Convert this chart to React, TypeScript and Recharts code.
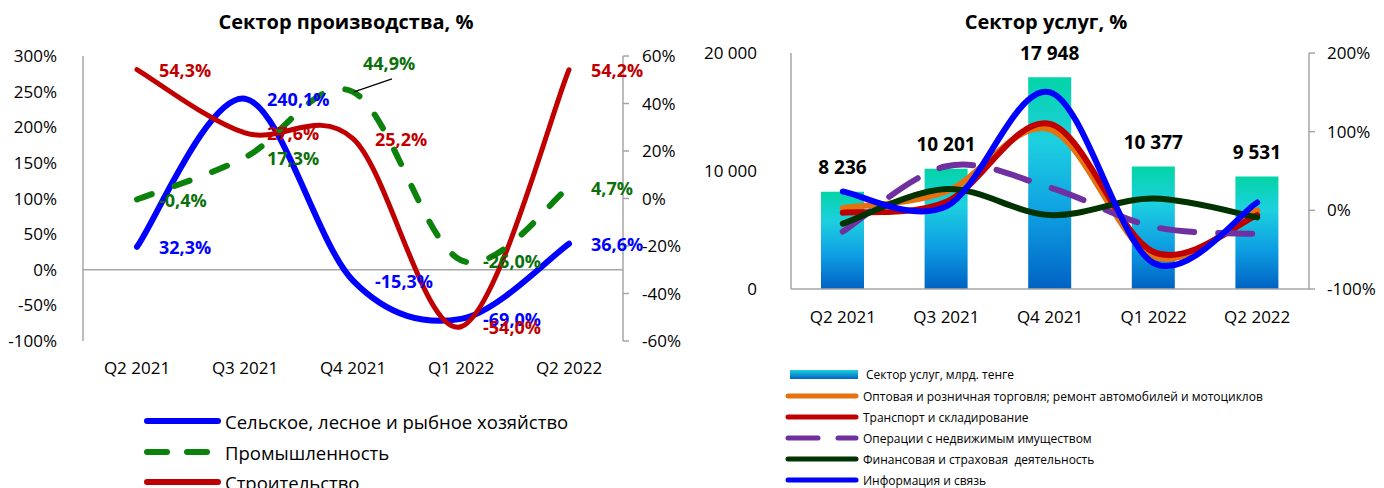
import React from "react";
import {
  ComposedChart,
  Line,
  Bar,
  XAxis,
  YAxis,
  ReferenceLine,
  LabelList,
} from "recharts";

const QUARTERS = ["Q2 2021", "Q3 2021", "Q4 2021", "Q1 2022", "Q2 2022"];

// Сектор производства, % — agri on the left axis, the other two on the right axis
const AGRI = [32.3, 240.1, -15.3, -69.0, 36.6];
const INDUSTRY = [-0.4, 17.3, 44.9, -26.0, 4.7];
const CONSTRUCTION = [54.3, 27.6, 25.2, -54.0, 54.2];
const PROD_LEFT_TICKS = [-100, -50, 0, 50, 100, 150, 200, 250, 300];
const PROD_RIGHT_TICKS = [-60, -40, -20, 0, 20, 40, 60];
const PROD_NAMES = [
  "Сельское, лесное и рыбное хозяйство",
  "Промышленность",
  "Строительство",
];

// Сектор услуг — bars in bn tenge, lines in % (right axis)
const SERVICES = [8236, 10201, 17948, 10377, 9531];
const TRADE = [3, 24, 103, -59, 0];
const TRANSPORT = [-3, 11, 110, -53, -6];
const REALTY = [-27, 56, 29, -21, -30];
const FINANCE = [-17, 27, -6, 15, -9];
const INFO = [24, 5, 150, -67, 10];
const SVC_LEFT_TICKS = [0, 10000, 20000];
const SVC_RIGHT_TICKS = [-100, 0, 100, 200];
const SVC_NAMES = [
  "Сектор услуг, млрд. тенге",
  "Оптовая и розничная торговля; ремонт автомобилей и мотоциклов",
  "Транспорт и складирование",
  "Операции с недвижимым имуществом",
  "Финансовая и страховая  деятельность",
  "Информация и связь",
];

const prodData = QUARTERS.map((q, i) => ({
  q,
  agri: AGRI[i],
  industry: INDUSTRY[i],
  construction: CONSTRUCTION[i],
}));

const svcData = QUARTERS.map((q, i) => ({
  q,
  services: SERVICES[i],
  trade: TRADE[i],
  transport: TRANSPORT[i],
  realty: REALTY[i],
  finance: FINANCE[i],
  info: INFO[i],
}));

const FONT = "'Open Sans', 'Noto Sans', sans-serif";
const AXIS_GRAY = "#A6A6A6";
const BLUE = "#0000FF";
const GREEN = "#0B820B";
const GREEN_TEXT = "#0B700B";
const DARK_RED = "#C00000";
const ORANGE = "#E6720F";
const PURPLE = "#7030A0";
const DARK_GREEN = "#003300";

// Excel-style smoothed line (Catmull-Rom through every point)
function excelSmooth(context: any) {
  let pts: number[][] = [];
  return {
    areaStart() {},
    areaEnd() {},
    lineStart() {
      pts = [];
    },
    point(x: number, y: number) {
      pts.push([+x, +y]);
    },
    lineEnd() {
      if (!pts.length) return;
      context.moveTo(pts[0][0], pts[0][1]);
      for (let i = 0; i < pts.length - 1; i++) {
        const p0 = pts[i - 1] || pts[i];
        const p1 = pts[i];
        const p2 = pts[i + 1];
        const p3 = pts[i + 2] || p2;
        context.bezierCurveTo(
          p1[0] + (p2[0] - p0[0]) / 6,
          p1[1] + (p2[1] - p0[1]) / 6,
          p2[0] - (p3[0] - p1[0]) / 6,
          p2[1] - (p3[1] - p1[1]) / 6,
          p2[0],
          p2[1]
        );
      }
    },
  };
}

const pct = (v: number) => v.toFixed(1).replace(".", ",") + "%";
const thousands = (v: number) => String(v).replace(/\B(?=(\d{3})+(?!\d))/g, " ");

// data label to the right of the point; the 44,9% one sits up with a leader line
function sideLabel(color: string, calloutIndex = -1) {
  // eslint-disable-next-line @typescript-eslint/no-explicit-any
  return (props: any) => {
    const { x, y, value, index } = props;
    if (index === calloutIndex) {
      return (
        <g>
          <line x1={x + 1} y1={y} x2={x + 39} y2={y - 13} stroke="#000" strokeWidth={1.2} />
          <text x={x + 10} y={y - 28} dy="0.35em" fill={color} fontSize={18} fontWeight="bold">
            {pct(value)}
          </text>
        </g>
      );
    }
    return (
      <text x={x + 22} y={y + 1} dy="0.35em" fill={color} fontSize={18} fontWeight="bold">
        {pct(value)}
      </text>
    );
  };
}

// eslint-disable-next-line @typescript-eslint/no-explicit-any
function BarTopLabel(props: any) {
  const { x, y, width, value } = props;
  return (
    <text
      x={x + width / 2}
      y={y - 24}
      dy="0.35em"
      textAnchor="middle"
      fill="#000"
      fontSize={19}
      fontWeight="bold"
    >
      {thousands(value)}
    </text>
  );
}

function LegendRow({
  top,
  left,
  lineWidth,
  color,
  width,
  dash,
  text,
  fontSize,
}: {
  top: number;
  left: number;
  lineWidth: number;
  color: string;
  width: number;
  dash?: string;
  text: string;
  fontSize: number;
}) {
  return (
    <div style={{ position: "absolute", top: top - 12, left, height: 24, display: "flex", alignItems: "center" }}>
      <svg width={lineWidth + 6} height={12} style={{ display: "block" }}>
        <line
          x1={3}
          y1={6}
          x2={lineWidth + 3}
          y2={6}
          stroke={color}
          strokeWidth={width}
          strokeLinecap="round"
          strokeDasharray={dash}
        />
      </svg>
      <span style={{ marginLeft: 4, fontSize, color: "#000", whiteSpace: "pre" }}>{text}</span>
    </div>
  );
}

function ProductionChart() {
  return (
    <div style={{ position: "absolute", left: 0, top: 0, width: 700, height: 488 }}>
      <div
        style={{
          position: "absolute",
          top: 8,
          left: 0,
          width: 700,
          textAlign: "center",
          fontSize: 20,
          fontWeight: "bold",
          paddingRight: 8,
          boxSizing: "border-box",
        }}
      >
        Сектор производства, %
      </div>
      <ComposedChart width={700} height={400} data={prodData} margin={{ top: 56, right: 0, left: 0, bottom: 19 }}>
        <XAxis
          dataKey="q"
          axisLine={false}
          tickLine={false}
          tickMargin={15}
          tick={{ fontSize: 17, fill: "#000" }}
          height={40}
          padding={{ left: 54, right: 54 }}
        />
        <YAxis
          yAxisId="l"
          domain={[-100, 300]}
          ticks={PROD_LEFT_TICKS}
          tickFormatter={(v: number) => v + "%"}
          axisLine={{ stroke: AXIS_GRAY, strokeWidth: 1.5 }}
          tickLine={false}
          tickMargin={20}
          width={83}
          tick={{ fontSize: 17, fill: "#000" }}
          allowDataOverflow
        />
        <YAxis
          yAxisId="r"
          orientation="right"
          domain={[-60, 60]}
          ticks={PROD_RIGHT_TICKS}
          tickFormatter={(v: number) => v + "%"}
          axisLine={{ stroke: AXIS_GRAY, strokeWidth: 1.5 }}
          tickLine={{ stroke: AXIS_GRAY, strokeWidth: 1.5 }}
          tickSize={6}
          tickMargin={13}
          width={77}
          tick={{ fontSize: 17, fill: "#000" }}
          allowDataOverflow
        />
        <ReferenceLine yAxisId="l" y={0} stroke={AXIS_GRAY} strokeWidth={1.5} />
        <Line
          yAxisId="l"
          dataKey="agri"
          type={excelSmooth as any}
          stroke={BLUE}
          strokeWidth={6}
          strokeLinecap="round"
          dot={false}
          isAnimationActive={false}
        >
          <LabelList dataKey="agri" content={sideLabel(BLUE)} />
        </Line>
        <Line
          yAxisId="r"
          dataKey="construction"
          type={excelSmooth as any}
          stroke={DARK_RED}
          strokeWidth={5}
          strokeLinecap="round"
          dot={false}
          isAnimationActive={false}
        >
          <LabelList dataKey="construction" content={sideLabel(DARK_RED)} />
        </Line>
        <Line
          yAxisId="r"
          dataKey="industry"
          type={excelSmooth as any}
          stroke={GREEN}
          strokeWidth={6}
          strokeLinecap="round"
          strokeDasharray="16 24"
          dot={false}
          isAnimationActive={false}
        >
          <LabelList dataKey="industry" content={sideLabel(GREEN_TEXT, 2)} />
        </Line>
      </ComposedChart>
      <LegendRow top={421} left={144} lineWidth={71} color={BLUE} width={6} text={PROD_NAMES[0]} fontSize={18.5} />
      <LegendRow top={452} left={144} lineWidth={71} color={GREEN} width={6} dash="20 20" text={PROD_NAMES[1]} fontSize={18.5} />
      <LegendRow top={482} left={144} lineWidth={71} color={DARK_RED} width={6} text={PROD_NAMES[2]} fontSize={18.5} />
    </div>
  );
}

function ServicesChart() {
  const lineColors = [ORANGE, DARK_RED, PURPLE, DARK_GREEN, BLUE];
  return (
    <div style={{ position: "absolute", left: 700, top: 0, width: 684, height: 488 }}>
      <div
        style={{
          position: "absolute",
          top: 8,
          left: 0,
          width: 684,
          textAlign: "center",
          fontSize: 20,
          fontWeight: "bold",
          paddingLeft: 8,
          boxSizing: "border-box",
        }}
      >
        Сектор услуг, %
      </div>
      <ComposedChart width={684} height={340} data={svcData} margin={{ top: 53, right: 0, left: 0, bottom: 11 }}>
        <defs>
          <linearGradient id="svcBarGrad" x1="0" y1="0" x2="0" y2="1">
            <stop offset="0%" stopColor="#03D4A6" />
            <stop offset="30%" stopColor="#1DD0DF" />
            <stop offset="65%" stopColor="#0E9EE3" />
            <stop offset="100%" stopColor="#0062C3" />
          </linearGradient>
        </defs>
        <XAxis
          dataKey="q"
          axisLine={{ stroke: AXIS_GRAY, strokeWidth: 1.5 }}
          tickLine={false}
          tickMargin={16}
          tick={{ fontSize: 17, fill: "#000" }}
          height={40}
        />
        <YAxis
          yAxisId="cnt"
          domain={[0, 20000]}
          ticks={SVC_LEFT_TICKS}
          tickFormatter={thousands}
          axisLine={{ stroke: AXIS_GRAY, strokeWidth: 1.5 }}
          tickLine={false}
          tickMargin={28}
          width={91}
          tick={{ fontSize: 17, fill: "#000" }}
        />
        <YAxis
          yAxisId="pct"
          orientation="right"
          domain={[-100, 200]}
          ticks={SVC_RIGHT_TICKS}
          tickFormatter={(v: number) => v + "%"}
          axisLine={{ stroke: AXIS_GRAY, strokeWidth: 1.5 }}
          tickLine={{ stroke: AXIS_GRAY, strokeWidth: 1.5 }}
          tickSize={6}
          tickMargin={12}
          width={75}
          tick={{ fontSize: 17, fill: "#000" }}
          allowDataOverflow
        />
        <Bar yAxisId="cnt" dataKey="services" barSize={43} fill="url(#svcBarGrad)" isAnimationActive={false}>
          <LabelList dataKey="services" content={BarTopLabel} />
        </Bar>
        <Line yAxisId="pct" dataKey="trade" type={excelSmooth as any} stroke={ORANGE} strokeWidth={6} strokeLinecap="round" dot={false} isAnimationActive={false} />
        <Line yAxisId="pct" dataKey="transport" type={excelSmooth as any} stroke={DARK_RED} strokeWidth={6} strokeLinecap="round" dot={false} isAnimationActive={false} />
        <Line yAxisId="pct" dataKey="realty" type={excelSmooth as any} stroke={PURPLE} strokeWidth={6} strokeLinecap="round" strokeDasharray="34 24" dot={false} isAnimationActive={false} />
        <Line yAxisId="pct" dataKey="finance" type={excelSmooth as any} stroke={DARK_GREEN} strokeWidth={6} strokeLinecap="round" dot={false} isAnimationActive={false} />
        <Line yAxisId="pct" dataKey="info" type={excelSmooth as any} stroke={BLUE} strokeWidth={6} strokeLinecap="round" dot={false} isAnimationActive={false} />
      </ComposedChart>
      <div style={{ position: "absolute", top: 370, left: 90, width: 68, height: 9, background: "linear-gradient(#1DD0DF, #0062C3)" }} />
      <span style={{ position: "absolute", top: 366, left: 166, fontSize: 12, whiteSpace: "pre" }}>{SVC_NAMES[0]}</span>
      {SVC_NAMES.slice(1).map((name, i) => (
        <LegendRow
          key={name}
          top={396 + i * 21}
          left={85}
          lineWidth={68}
          color={lineColors[i]}
          width={5}
          dash={i === 2 ? "30 20" : undefined}
          text={name}
          fontSize={12}
        />
      ))}
    </div>
  );
}

export default function App() {
  return (
    <div
      style={{
        position: "fixed",
        left: 0,
        top: 0,
        width: 1384,
        height: 488,
        overflow: "hidden",
        background: "#fff",
        fontFamily: FONT,
        color: "#000",
      }}
    >
      <ProductionChart />
      <ServicesChart />
    </div>
  );
}
